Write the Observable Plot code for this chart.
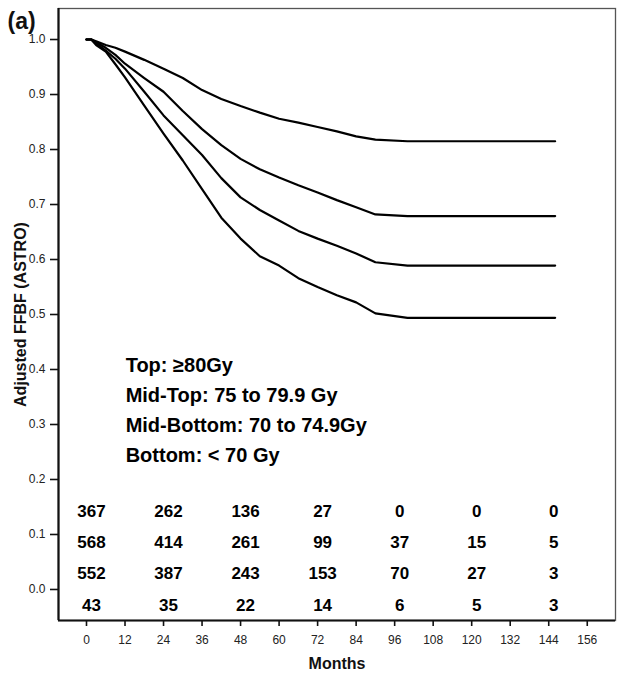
<!DOCTYPE html>
<html>
<head>
<meta charset="utf-8">
<script src="https://cdn.jsdelivr.net/npm/d3@7"></script>
<script src="https://cdn.jsdelivr.net/npm/@observablehq/plot@0.6"></script>
<style>
  html, body { margin: 0; padding: 0; background: #fff; }
  #chart { width: 624px; height: 677px; }
</style>
</head>
<body>
<div id="chart"></div>
<script>
// ---- Data ----
const months = [0, 1.5, 3, 6, 9, 12, 18, 24, 30, 36, 42, 48, 54, 60, 66, 72, 78, 84, 90, 100, 146];
const topGroup       = [1.0, 1.0, 0.997, 0.990, 0.985, 0.978, 0.963, 0.947, 0.930, 0.908, 0.892, 0.879, 0.867, 0.856, 0.849, 0.841, 0.833, 0.824, 0.818, 0.815, 0.815];
const midTopGroup    = [1.0, 1.0, 0.995, 0.985, 0.972, 0.956, 0.930, 0.905, 0.870, 0.837, 0.808, 0.783, 0.764, 0.749, 0.735, 0.722, 0.708, 0.695, 0.682, 0.679, 0.679];
const midBottomGroup = [1.0, 1.0, 0.993, 0.980, 0.965, 0.947, 0.905, 0.862, 0.826, 0.790, 0.748, 0.713, 0.690, 0.671, 0.652, 0.638, 0.625, 0.611, 0.595, 0.589, 0.589];
const bottomGroup    = [1.0, 1.0, 0.990, 0.978, 0.955, 0.931, 0.880, 0.829, 0.780, 0.728, 0.676, 0.638, 0.606, 0.589, 0.566, 0.550, 0.535, 0.522, 0.502, 0.494, 0.494];

const groupNames = ["Top", "Mid-Top", "Mid-Bottom", "Bottom"];
const legendLines = ["Top: \u226580Gy", "Mid-Top: 75 to 79.9 Gy", "Mid-Bottom: 70 to 74.9Gy", "Bottom: < 70 Gy"];

const riskMonths = [0, 24, 48, 72, 96, 120, 144];
const riskTop       = [367, 262, 136, 27, 0, 0, 0];
const riskMidTop    = [568, 414, 261, 99, 37, 15, 5];
const riskMidBottom = [552, 387, 243, 153, 70, 27, 3];
const riskBottom    = [43, 35, 22, 14, 6, 5, 3];

const xTicks = d3.range(0, 157, 12);
const yTicks = d3.range(0, 11).map(i => i / 10);

// ---- Build tables ----
const seriesValues = [topGroup, midTopGroup, midBottomGroup, bottomGroup];
const curves = [];
seriesValues.forEach((vals, g) => {
  vals.forEach((v, i) => curves.push({group: groupNames[g], month: months[i], value: v}));
});

const riskRows = [riskTop, riskMidTop, riskMidBottom, riskBottom];
const rowY = [0.142, 0.086, 0.0285, -0.029];
const risk = [];
riskRows.forEach((row, r) => {
  row.forEach((n, i) => risk.push({month: riskMonths[i], row: r, n}));
});

const legend = legendLines.map((t, i) => ({t, i}));

const xDomain = [-8.72, 164.8];
const yDomain = [-0.0564, 1.0564];
const font = "Arial, 'Liberation Sans', Helvetica, sans-serif";

const chart = Plot.plot({
  width: 624,
  height: 677,
  marginLeft: 58,
  marginRight: 9,
  marginTop: 8,
  marginBottom: 57,
  style: {fontFamily: font, fontSize: "12px", color: "#111", background: "#fff", overflow: "visible"},
  x: {domain: xDomain},
  y: {domain: yDomain},
  marks: [
    Plot.frame({stroke: "#555", strokeWidth: 1.3}),
    Plot.ruleX([xDomain[0]], {stroke: "#111", strokeWidth: 2.2}),
    Plot.ruleY([yDomain[0]], {stroke: "#111", strokeWidth: 2.2}),
    Plot.axisY({ticks: yTicks, tickFormat: ".1f", tickSize: 8, tickPadding: 5, label: null, stroke: "#111", strokeWidth: 1.6, fill: "#222", fontSize: 12}),
    Plot.axisX({ticks: xTicks, tickFormat: "d", tickSize: 6, tickPadding: 9, label: null, stroke: "#111", strokeWidth: 1.6, fill: "#222", fontSize: 12}),
    Plot.line(curves, {x: "month", y: "value", z: "group", stroke: "#000", strokeWidth: 2.2, curve: "linear"}),
    Plot.text(legend, {x: () => 12.2, y: d => 0.407 - d.i * 0.0545, text: "t", textAnchor: "start", fontSize: 20, fontWeight: "bold", fill: "#000"}),
    Plot.text(risk, {x: "month", y: d => rowY[d.row], text: d => String(d.n), dx: 5, textAnchor: "middle", fontSize: 17, fontWeight: "bold", fill: "#000"}),
    Plot.text(["Adjusted FFBF (ASTRO)"], {frameAnchor: "left", rotate: -90, dx: -38, textAnchor: "middle", lineAnchor: "middle", fontSize: 16, fontWeight: "bold", fill: "#111"}),
    Plot.text(["Months"], {frameAnchor: "bottom", dy: 43, textAnchor: "middle", lineAnchor: "middle", fontSize: 16, fontWeight: "bold", fill: "#111"}),
    Plot.text(["(a)"], {frameAnchor: "top-left", dx: -51, dy: 13, textAnchor: "start", lineAnchor: "middle", fontSize: 23, fontWeight: "bold", fill: "#111"})
  ]
});
document.getElementById("chart").appendChild(chart);
</script>
</body>
</html>
